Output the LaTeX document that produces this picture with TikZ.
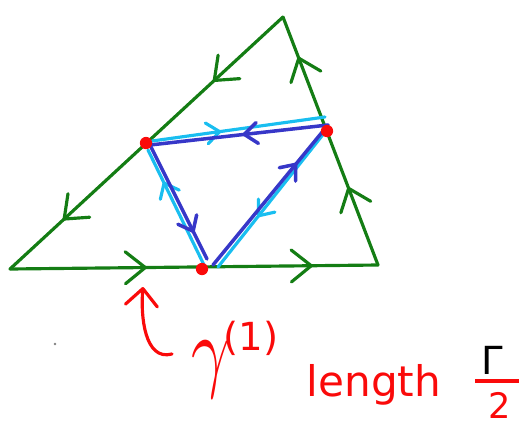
\documentclass[tikz,border=0pt]{standalone}
\usepackage{fontspec}
\usepackage{graphicx}
\setmainfont{DejaVu Sans}
\usetikzlibrary{arrows.meta,decorations.markings}
\definecolor{sidegreen}{RGB}{20,125,20}
\definecolor{loopdark}{RGB}{55,55,200}
\definecolor{looplight}{RGB}{25,190,240}
\definecolor{penred}{RGB}{250,10,10}
\tikzset{
    bigbarb/.tip={Straight Barb[length=4mm, width=6.4mm, line cap=round, line join=round]},
    smallbarb/.tip={Straight Barb[length=2.6mm, width=4.2mm, line cap=round, line join=round]},
    penbarb/.tip={Straight Barb[length=3.4mm, width=6.4mm, line cap=round, line join=round]}
}
\begin{document}
\begin{tikzpicture}[
        x=0.02cm,
        y=-0.02cm,
        twoside/.style 2 args={draw=sidegreen, line width=1.8pt, line cap=round, postaction={decorate},
            decoration={markings,
                mark=at position #1 with {\arrow{bigbarb}},
                mark=at position #2 with {\arrow{bigbarb}}}},
        dark/.style={draw=loopdark, line width=2pt, line cap=round, postaction={decorate},
            decoration={markings, mark=at position #1 with {\arrow{smallbarb}}}},
        light/.style={draw=looplight, line width=1.8pt, line cap=round, postaction={decorate},
            decoration={markings, mark=at position #1 with {\arrow{smallbarb}}}},
        touch/.style={circle, fill=penred, minimum size=7pt, inner sep=0pt},
        pen/.style={text=penred, inner sep=0pt}
    ]
    \useasboundingbox (0,0) rectangle (521,427);
    % outer triangle
    \coordinate (A) at (10,269);
    \coordinate (B) at (283,17);
    \coordinate (C) at (378,265);
    \draw[twoside={0.256}{0.806}] (B) -- (A);
    \draw[twoside={0.372}{0.823}] (A) -- (C);
    \draw[twoside={0.315}{0.84}] (C) -- (B);
    % light loop
    \coordinate (lP1) at (152,141);
    \coordinate (lQ1) at (325,117);
    \coordinate (lQ2) at (325,132);
    \coordinate (lR2) at (218,267);
    \coordinate (lR1) at (205,267);
    \coordinate (lP2) at (148,150);
    \draw[light=0.40] (lP1) -- (lQ1);
    \draw[light=0.63] (lQ2) -- (lR2);
    \draw[light=0.73] (lR1) -- (lP2);
    % dark loop
    \coordinate (dP) at (150,145);
    \coordinate (dR1) at (207,259);
    \coordinate (dR2) at (213,265);
    \coordinate (dQ) at (328,125);
    \draw[dark=0.77] (dP) -- (dR1);
    \draw[dark=0.73] (dR2) -- (dQ);
    \draw[dark=0.48] (dQ) -- (dP);
    % touching points
    \node[touch] (P) at (146,143) {};
    \node[touch] (Q) at (327,131) {};
    \node[touch] (R) at (202,269) {};
    \fill[gray] (55,344) circle (0.8pt);
    % labels
    \node[pen] (gam) at (211,370) {\scalebox{3.8}[5.2]{$\gamma$}};
    \node[pen, font=\fontsize{22}{22}\selectfont] (gamsup) at (251,338) {(1)};
    \coordinate (tail) at (172,354);
    \coordinate (tip) at (143,287);
    \draw[penred, line width=1.8pt, line cap=round, -penbarb] (tail) to[out=195, in=-95] (tip);
    \node[pen, font=\fontsize{24}{24}\selectfont] (len) at (374,385) {length};
    \node[inner sep=0pt, font=\fontsize{22}{22}\selectfont] (Gam) at (492,360) {Γ};
    \node[pen, font=\fontsize{20}{20}\selectfont] (two) at (500,405) {2};
    \coordinate (barL) at (475,381);
    \coordinate (barR) at (519,381);
    \draw[penred, line width=1.8pt] (barL) -- (barR);
\end{tikzpicture}
\end{document}
